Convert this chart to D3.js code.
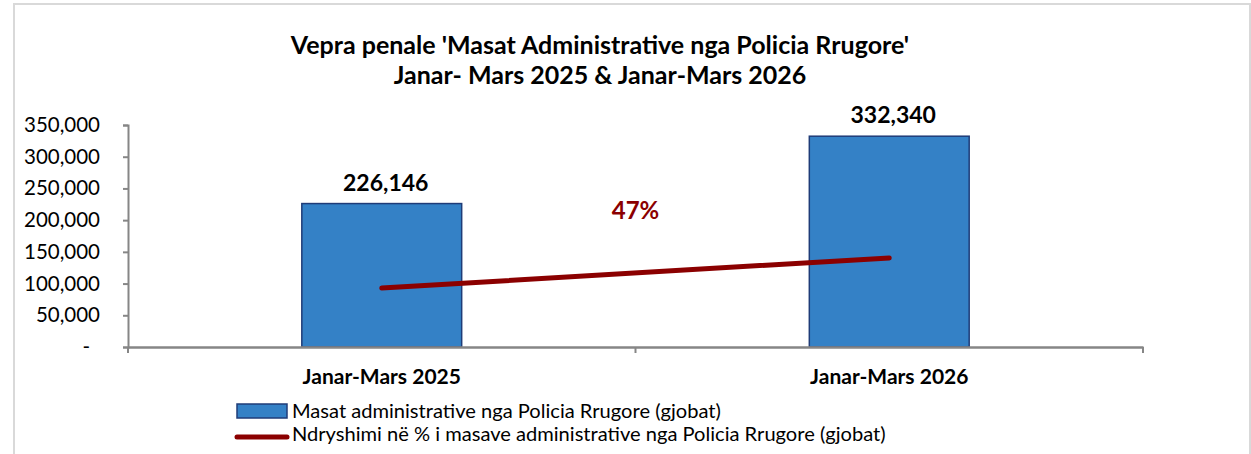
<!DOCTYPE html>
<html><head><meta charset="utf-8">
<script src="https://cdn.jsdelivr.net/npm/d3@7"></script>
<style>
html,body{margin:0;padding:0;background:#fff;}
svg{display:block;font-family:Lato, "Open Sans", sans-serif;}
</style></head>
<body>
<svg id="chart" width="1251" height="454"></svg>
<script>
const categories = ["Janar-Mars 2025", "Janar-Mars 2026"];
const barValues = [226146, 332340];
const lineValues = [93000, 140500];
const changeLabel = "47%";
const yTicks = [0, 50000, 100000, 150000, 200000, 250000, 300000, 350000];
const titleLines = ["Vepra penale 'Masat Administrative nga Policia Rrugore'", "Janar- Mars 2025 & Janar-Mars 2026"];
const legendLabels = ["Masat administrative nga Policia Rrugore (gjobat)", "Ndryshimi në % i masave administrative nga Policia Rrugore (gjobat)"];

const svg = d3.select("#chart");
const plot = {left: 128, right: 1143, top: 125, bottom: 347};
const barFill = "#3481C6", barStroke = "#1F3C78", lineColor = "#8B0000", axisColor = "#868686";

// frame
svg.append("rect").attr("x", 14).attr("y", 4).attr("width", 1236).attr("height", 460)
  .attr("fill", "#fff").attr("stroke", "#D9D9D9").attr("stroke-width", 2);

// title
svg.append("g").selectAll("text").data(titleLines).join("text")
  .attr("x", 600).attr("y", (d, i) => 54 + i * 30)
  .attr("text-anchor", "middle").attr("font-weight", "bold").attr("font-size", 25)
  .attr("fill", "#000").text(d => d);

const x = d3.scaleBand().domain(categories).range([plot.left, plot.right]).paddingInner(0).paddingOuter(0);
const y = d3.scaleLinear().domain([0, 350000]).range([plot.bottom, plot.top]);
const barW = x.bandwidth() * 0.315;

// y axis
const yAxis = d3.axisLeft(y).tickValues(yTicks).tickSize(5).tickPadding(23)
  .tickFormat(d => d === 0 ? "-" : d3.format(",")(d));
const gy = svg.append("g").attr("transform", `translate(${plot.left},0)`).call(yAxis);
gy.select(".domain").attr("stroke", axisColor).attr("stroke-width", 2);
gy.selectAll(".tick line").attr("stroke", axisColor).attr("stroke-width", 2);
gy.selectAll(".tick text").attr("font-size", 20.5).attr("fill", "#000").attr("font-family", "Lato, sans-serif")
  .attr("dx", d => d === 0 ? -10 : 0);

// bars
svg.append("g").selectAll("rect").data(barValues).join("rect")
  .attr("x", (d, i) => x(categories[i]) + x.bandwidth() / 2 - barW / 2)
  .attr("y", d => y(d)).attr("width", barW).attr("height", d => y(0) - y(d))
  .attr("fill", barFill).attr("stroke", barStroke).attr("stroke-width", 1.5);

// x axis
const xAxis = d3.axisBottom(x).tickSize(0).tickPadding(22);
const gx = svg.append("g").attr("transform", `translate(0,${plot.bottom})`).call(xAxis);
gx.select(".domain").attr("stroke", axisColor).attr("stroke-width", 2.5);
gx.selectAll(".tick text").attr("font-size", 21).attr("font-weight", "bold").attr("fill", "#000")
  .attr("font-family", "Lato, sans-serif");
const bounds = categories.map(c => x(c)).concat([x(categories[categories.length - 1]) + x.bandwidth()]);
gx.append("g").selectAll("line").data(bounds).join("line")
  .attr("x1", d => d).attr("x2", d => d).attr("y1", 0).attr("y2", 6)
  .attr("stroke", axisColor).attr("stroke-width", 2);

// data labels
svg.append("g").selectAll("text").data(barValues).join("text")
  .attr("x", (d, i) => x(categories[i]) + x.bandwidth() / 2 + 4)
  .attr("y", d => y(d) - 13)
  .attr("text-anchor", "middle").attr("font-weight", "bold").attr("font-size", 23).attr("fill", "#000")
  .text(d => d3.format(",")(d));

// line
const line = d3.line().x((d, i) => x(categories[i]) + x.bandwidth() / 2).y(d => y(d));
svg.append("path").datum(lineValues).attr("d", line)
  .attr("fill", "none").attr("stroke", lineColor).attr("stroke-width", 5).attr("stroke-linecap", "round");

// change label
svg.append("text").attr("x", x(categories[1])).attr("y", 219)
  .attr("text-anchor", "middle").attr("font-weight", "bold").attr("font-size", 24).attr("fill", lineColor)
  .text(changeLabel);

// legend
const lg = svg.append("g");
lg.append("rect").attr("x", 237).attr("y", 404).attr("width", 50).attr("height", 14)
  .attr("fill", barFill).attr("stroke", barStroke).attr("stroke-width", 1.5);
lg.append("line").attr("x1", 237).attr("x2", 287).attr("y1", 437).attr("y2", 437)
  .attr("stroke", lineColor).attr("stroke-width", 5).attr("stroke-linecap", "round");
lg.selectAll("text").data(legendLabels).join("text")
  .attr("x", 292).attr("y", (d, i) => 418 + i * 23)
  .attr("font-size", 20.1).attr("fill", "#000").text(d => d);
</script>
</body></html>
